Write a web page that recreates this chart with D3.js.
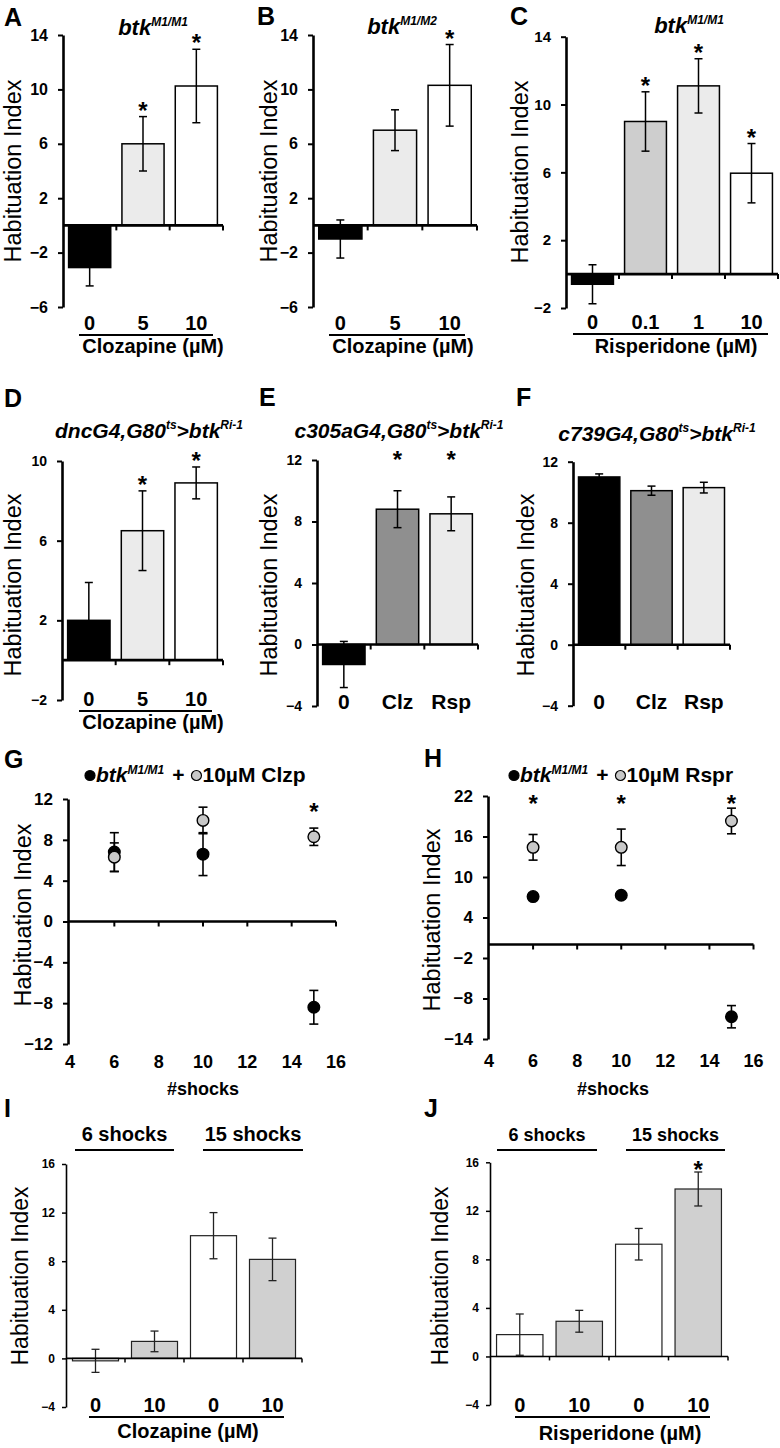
<!DOCTYPE html>
<html><head><meta charset="utf-8">
<script src="https://cdn.jsdelivr.net/npm/d3@7"></script>
<style>
body{margin:0;background:#fff;}
svg{display:block;}
</style></head><body>
<svg id="fig" width="780" height="1448"></svg>
<script>
// ---------------- DATA ----------------
const catsA=["0","5","10"], valsA=[-3.1,6.0,10.25], errA=[1.35,2.0,2.7], starA=[0,1,1], ticksA=[-6,-2,2,6,10,14];
const catsB=["0","5","10"], valsB=[-1.0,7.0,10.3], errB=[1.4,1.5,3.0], starB=[0,0,1], ticksB=[-6,-2,2,6,10,14];
const catsC=["0","0.1","1","10"], valsC=[-0.6,9.0,11.1,5.95], errC=[1.15,1.75,1.6,1.75], starC=[0,1,1,1], ticksC=[-2,2,6,10,14];
const catsD=["0","5","10"], valsD=[2.0,6.5,8.9], errD=[1.9,2.0,0.8], starD=[0,1,1], ticksD=[-2,2,6,10];
const catsE=["0","Clz","Rsp"], valsE=[-1.3,8.8,8.5], errE=[1.5,1.2,1.1], starE=[0,1,1], ticksE=[-4,0,4,8,12];
const catsF=["0","Clz","Rsp"], valsF=[11.0,10.1,10.3], errF=[0.2,0.3,0.35], starF=[0,0,0], ticksF=[-4,0,4,8,12];
const shocks=[6,10,15];
const gBlack=[6.8,6.6,-8.4], gBlackErr=[1.9,2.1,1.65], gGray=[6.3,9.9,8.3], gGrayErr=[1.4,1.3,0.85], gStar=[0,0,1];
const ticksGy=[-12,-8,-4,0,4,8,12];
const hBlack=[7.1,7.3,-10.7], hBlackErr=[0.5,0.5,1.65], hGray=[14.4,14.4,18.3], hGrayErr=[1.9,2.7,1.9], hStar=[1,1,1];
const ticksHy=[-14,-8,-2,4,10,16,22];
const ticksShocks=[4,6,8,10,12,14,16];
const catsI=["0","10","0","10"], valsI=[-0.2,1.4,10.1,8.15], errI=[0.95,0.85,1.9,1.75], starI=[0,0,0,0], ticksI=[-4,0,4,8,12,16];
const catsJ=["0","10","0","10"], valsJ=[1.8,2.9,9.25,13.8], errJ=[1.7,0.9,1.3,1.4], starJ=[0,0,0,1], ticksJ=[-4,0,4,8,12,16];
const groupsIJ=["6 shocks","15 shocks"];
const yTitle="Habituation Index";

// ---------------- HELPERS ----------------
const FONT='"Liberation Sans", Arial, Helvetica, sans-serif';
const NARROW='"Liberation Sans Narrow", "Liberation Sans", Arial, sans-serif';
const svg=d3.select("#fig").attr("font-family",FONT);

function rich(g,x,y,parts,o){
  const t=g.append("text").attr("x",x).attr("y",y).attr("font-size",o.size)
    .attr("font-weight","bold").attr("text-anchor",o.anchor||"start").attr("fill","#000");
  if(o.italic) t.attr("font-style","italic");
  let up=false;
  parts.forEach(p=>{
    const s=t.append("tspan").text(p.t);
    if(p.sup){s.attr("font-size",o.supSize).attr("dy",up?0:-o.rise);up=true;}
    else if(up){s.attr("dy",o.rise);up=false;}
  });
  return t;
}
function panelLabel(txt,x,y){
  svg.append("text").attr("x",x).attr("y",y).attr("font-size",25).attr("font-weight","bold").text(txt);
}
function yLabel(x,y,size){
  svg.append("text").attr("transform",`translate(${x},${y}) rotate(-90)`)
    .attr("text-anchor","middle").attr("font-size",size||23.5).text(yTitle);
}
function styleAxis(gAx,o){
  gAx.attr("font-family",o.tickFont||FONT).attr("font-size",o.tickSize).attr("font-weight","bold");
  gAx.select(".domain").attr("stroke-width",o.axisW);
  gAx.selectAll(".tick line").attr("stroke-width",o.tickW);
  gAx.selectAll(".tick text").attr("fill","#000");
}

function barPanel(o){
  const g=svg.append("g");
  const n=o.vals.length;
  const x=d3.scaleBand().domain(d3.range(n)).range([o.x0,o.x1]).paddingInner(o.pi).paddingOuter(o.pi/2);
  const y=d3.scaleLinear().domain(o.domain).range([o.yBot,o.yTop]);
  const y0=y(0);
  g.selectAll("rect.bar").data(o.vals).join("rect").attr("class","bar")
    .attr("x",(d,i)=>x(i)).attr("width",x.bandwidth())
    .attr("y",d=>Math.min(y(d),y0)).attr("height",d=>Math.abs(y(d)-y0))
    .attr("fill",(d,i)=>o.fills[i]).attr("stroke",o.barStroke).attr("stroke-width",o.barW);
  const cx=i=>x(i)+x.bandwidth()/2;
  const eb=g.append("g").attr("stroke",o.errColor).attr("stroke-width",o.errW);
  o.vals.forEach((v,i)=>{
    const e=o.err[i], t=y(v+e), b=y(v-e), c=cx(i);
    eb.append("line").attr("x1",c).attr("x2",c).attr("y1",t).attr("y2",b);
    eb.append("line").attr("x1",c-o.cap).attr("x2",c+o.cap).attr("y1",t).attr("y2",t);
    eb.append("line").attr("x1",c-o.cap).attr("x2",c+o.cap).attr("y1",b).attr("y2",b);
  });
  const ya=g.append("g").attr("transform",`translate(${o.x0},0)`)
    .call(d3.axisLeft(y).tickValues(o.ticks).tickSize(o.tickLen).tickSizeOuter(0).tickPadding(o.tickPad));
  styleAxis(ya,o);
  g.append("line").attr("x1",o.x0).attr("x2",o.x1).attr("y1",y0).attr("y2",y0)
    .attr("stroke","#000").attr("stroke-width",o.axisW);
  d3.range(n).forEach(i=>{
    const xt=o.x0+x.step()*(i+1);
    g.append("line").attr("x1",xt).attr("x2",xt).attr("y1",y0).attr("y2",y0+o.tickLen)
      .attr("stroke","#000").attr("stroke-width",o.tickW);
  });
  o.star.forEach((s,i)=>{
    if(!s) return;
    const yy=o.starY!=null?o.starY:y(o.vals[i]+o.err[i])+o.starDy;
    g.append("text").attr("x",cx(i)).attr("y",yy).attr("text-anchor","middle")
      .attr("font-size",o.starSize).attr("font-weight","bold").text("*");
  });
  o.cats.forEach((c,i)=>{
    g.append("text").attr("x",cx(i)).attr("y",o.catY).attr("text-anchor","middle")
      .attr("font-size",o.catSize).attr("font-weight","bold").text(c);
  });
  if(o.under){
    g.append("line").attr("x1",o.under[0]).attr("x2",o.under[1]).attr("y1",o.under[2]).attr("y2",o.under[2])
      .attr("stroke","#000").attr("stroke-width",2);
  }
  if(o.xTitle){
    g.append("text").attr("x",o.xTitle[1]).attr("y",o.xTitle[2]).attr("text-anchor","middle")
      .attr("font-size",o.catSize).attr("font-weight","bold").text(o.xTitle[0]);
  }
  if(o.groups){
    o.groups.forEach((gr,k)=>{
      const L=o.groupLines[k];
      g.append("text").attr("x",(L[0]+L[1])/2).attr("y",o.groupY).attr("text-anchor","middle")
        .attr("font-size",o.groupSize).attr("font-weight","bold").text(gr);
      g.append("line").attr("x1",L[0]).attr("x2",L[1]).attr("y1",o.groupLineY).attr("y2",o.groupLineY)
        .attr("stroke","#000").attr("stroke-width",2);
    });
  }
}

const STD={pi:0.21,barStroke:"#000",barW:1.5,errColor:"#000",errW:1.5,cap:4,tickLen:5,tickPad:10,axisW:2.6,tickW:2,starSize:24,starDy:2,catSize:20};

barPanel(Object.assign({},STD,{vals:valsA,err:errA,star:starA,cats:catsA,ticks:ticksA,domain:[-6,14],
  x0:63,x1:223,yTop:35,yBot:307,fills:["#000","#ebebeb","#fff"],tickSize:16,catY:330,
  under:[79,213,335],xTitle:["Clozapine (µM)",153,353]}));
barPanel(Object.assign({},STD,{vals:valsB,err:errB,star:starB,cats:catsB,ticks:ticksB,domain:[-6,14],
  x0:313,x1:477,yTop:35,yBot:307,fills:["#000","#ebebeb","#fff"],tickSize:16,catY:330,
  under:[329,465,335],xTitle:["Clozapine (µM)",403,353]}));
barPanel(Object.assign({},STD,{vals:valsC,err:errC,star:starC,cats:catsC,ticks:ticksC,domain:[-2,14],
  x0:566,x1:778,yTop:36.7,yBot:308,fills:["#000","#cecece","#ebebeb","#fff"],tickSize:15,catY:329,
  under:[573,768,334],xTitle:["Risperidone (µM)",676,353]}));
barPanel(Object.assign({},STD,{vals:valsD,err:errD,star:starD,cats:catsD,ticks:ticksD,domain:[-2,10],
  x0:62,x1:223,yTop:461,yBot:700,fills:["#000","#ebebeb","#fff"],tickSize:14,catY:706,
  under:[79,212,711],xTitle:["Clozapine (µM)",153,729]}));
barPanel(Object.assign({},STD,{vals:valsE,err:errE,star:starE,cats:catsE,ticks:ticksE,domain:[-4,12],
  x0:317,x1:478,yTop:460,yBot:706,fills:["#000","#8f8f8f","#ebebeb"],tickSize:14,catY:709,catSize:21,starY:468}));
barPanel(Object.assign({},STD,{vals:valsF,err:errF,star:starF,cats:catsF,ticks:ticksF,domain:[-4,12],
  x0:573,x1:730,yTop:461.7,yBot:705.7,fills:["#000","#8f8f8f","#ebebeb"],tickSize:14,catY:709,catSize:21}));

const THIN=Object.assign({},STD,{pi:0.22,barStroke:"#222",barW:1.2,errColor:"#222",errW:1.3,cap:4,tickLen:4,tickPad:7,
  axisW:1.6,tickW:1.5,tickSize:12,tickFont:NARROW,catSize:20,catY:1412,groupY:1141,groupLineY:1150,starDy:6});
barPanel(Object.assign({},THIN,{vals:valsI,err:errI,star:starI,cats:catsI,ticks:ticksI,domain:[-4,16],
  x0:66,x1:302,yTop:1164,yBot:1407,fills:["#fff","#d0d0d0","#fff","#d0d0d0"],
  under:[89,284,1417],xTitle:["Clozapine (µM)",188,1438],groups:groupsIJ,groupLines:[[75,174],[203,303]],groupSize:20}));
barPanel(Object.assign({},THIN,{vals:valsJ,err:errJ,star:starJ,cats:catsJ,ticks:ticksJ,domain:[-4,16],
  x0:490,x1:728,yTop:1162.3,yBot:1405,fills:["#fff","#d0d0d0","#fff","#d0d0d0"],
  under:[515,710,1417],xTitle:["Risperidone (µM)",620,1440],groups:groupsIJ,groupLines:[[497,597],[626,725]],groupSize:18}));

function scatterPanel(o){
  const g=svg.append("g");
  const x=d3.scaleLinear().domain([4,16]).range([o.xl,o.xr]);
  const y=d3.scaleLinear().domain(o.domain).range([o.yBot,o.yTop]);
  const ya=g.append("g").attr("transform",`translate(${o.ax},0)`)
    .call(d3.axisLeft(y).tickValues(o.ticks).tickSize(5).tickSizeOuter(0).tickPadding(10));
  styleAxis(ya,{tickSize:17,axisW:2.6,tickW:2});
  g.append("line").attr("x1",o.ax).attr("x2",x(16)).attr("y1",y(0)).attr("y2",y(0)).attr("stroke","#000").attr("stroke-width",2.6);
  ticksShocks.filter(v=>v>4).forEach(v=>{
    g.append("line").attr("x1",x(v)).attr("x2",x(v)).attr("y1",y(0)).attr("y2",y(0)+5).attr("stroke","#000").attr("stroke-width",2);
  });
  ticksShocks.forEach(v=>{
    g.append("text").attr("x",x(v)).attr("y",o.xLabY).attr("text-anchor","middle").attr("font-size",18).attr("font-weight","bold").text(v);
  });
  g.append("text").attr("x",o.xTitleX).attr("y",o.xTitleY).attr("text-anchor","middle").attr("font-size",18).attr("font-weight","bold").text("#shocks");
  const series=[{v:o.black,e:o.blackErr,fill:"#000"},{v:o.gray,e:o.grayErr,fill:"#c8c8c8"}];
  series.forEach(s=>{
    s.v.forEach((v,i)=>{
      const cx=x(shocks[i]), t=y(v+s.e[i]), b=y(v-s.e[i]);
      g.append("line").attr("x1",cx).attr("x2",cx).attr("y1",t).attr("y2",b).attr("stroke","#000").attr("stroke-width",1.6);
      [t,b].forEach(yy=>g.append("line").attr("x1",cx-4.5).attr("x2",cx+4.5).attr("y1",yy).attr("y2",yy).attr("stroke","#000").attr("stroke-width",1.6));
    });
    s.v.forEach((v,i)=>{
      g.append("circle").attr("cx",x(shocks[i])).attr("cy",y(v)).attr("r",5.8).attr("fill",s.fill).attr("stroke","#000").attr("stroke-width",1.4);
    });
  });
  o.star.forEach((st,i)=>{
    if(!st) return;
    const yy=o.starY!=null?o.starY:y(o.gray[i]+o.grayErr[i])+o.starDy;
    g.append("text").attr("x",x(shocks[i])).attr("y",yy).attr("text-anchor","middle").attr("font-size",24).attr("font-weight","bold").text("*");
  });
  let cx=o.legX; const ly=o.legY;
  const circ=(fill)=>{g.append("circle").attr("cx",cx+5).attr("cy",ly-6.5).attr("r",5).attr("fill",fill).attr("stroke","#000").attr("stroke-width",1.2);cx+=11;};
  const txt=(parts,italic,gap)=>{const t=rich(g,cx,ly,parts,{size:21,supSize:12,rise:8,italic:italic});cx+=t.node().getComputedTextLength()+gap;};
  circ("#000"); txt([{t:"btk"},{t:"M1/M1",sup:true}],true,8);
  txt([{t:"+"}],false,7);
  circ("#c8c8c8"); txt([{t:o.legText}],false,0);
}
scatterPanel({ax:68,xl:70,xr:336,domain:[-12,12],yTop:799,yBot:1044,ticks:ticksGy,black:gBlack,blackErr:gBlackErr,gray:gGray,grayErr:gGrayErr,
  star:gStar,starDy:-8,xLabY:1068,xTitleX:203,xTitleY:1095,legX:85,legY:782,legText:"10µM Clzp"});
scatterPanel({ax:488,xl:489,xr:753.5,domain:[-14,22],yTop:796,yBot:1039,ticks:ticksHy,black:hBlack,blackErr:hBlackErr,gray:hGray,grayErr:hGrayErr,
  star:hStar,starY:812,xLabY:1067,xTitleX:613,xTitleY:1095,legX:509,legY:782,legText:"10µM Rspr"});

const TT={size:22,supSize:12,rise:9,italic:true,anchor:"middle"};
const TT2={size:21,supSize:12,rise:9,italic:true,anchor:"middle"};
rich(svg,153,35,[{t:"btk"},{t:"M1/M1",sup:true}],TT);
rich(svg,402,34,[{t:"btk"},{t:"M1/M2",sup:true}],TT);
rich(svg,689,33,[{t:"btk"},{t:"M1/M1",sup:true}],TT);
rich(svg,149,438,[{t:"dncG4,G80"},{t:"ts",sup:true},{t:">btk"},{t:"Ri-1",sup:true}],TT2);
rich(svg,399,438,[{t:"c305aG4,G80"},{t:"ts",sup:true},{t:">btk"},{t:"Ri-1",sup:true}],TT2);
rich(svg,657,441,[{t:"c739G4,G80"},{t:"ts",sup:true},{t:">btk"},{t:"Ri-1",sup:true}],TT2);

[["A",4,26],["B",257,25],["C",510,25],["D",4,407],["E",259,406],["F",516,406],["G",4,768],["H",424,767],["I",4,1117],["J",424,1117]]
  .forEach(p=>panelLabel(p[0],p[1],p[2]));

yLabel(21,171); yLabel(277,171); yLabel(528,172);
yLabel(21,585); yLabel(277,585); yLabel(534,585);
yLabel(31,915); yLabel(440,920);
yLabel(28,1276,23); yLabel(448,1276,23);
</script>
</body></html>
